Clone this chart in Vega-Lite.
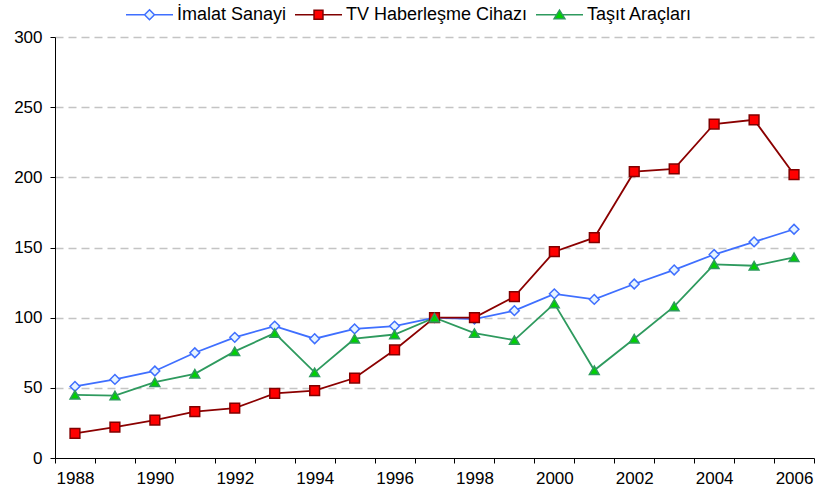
{
  "$schema": "https://vega.github.io/schema/vega-lite/v6.json",
  "width": 759,
  "height": 421,
  "autosize": {"type": "none"},
  "padding": {"left": 55, "top": 37, "right": 4, "bottom": 44},
  "background": "white",
  "config": {"view": {"stroke": null}, "font": "Liberation Sans"},
  "data": {"values": [
    {"year": 1988, "series": "İmalat Sanayi", "value": 51},
    {"year": 1989, "series": "İmalat Sanayi", "value": 56},
    {"year": 1990, "series": "İmalat Sanayi", "value": 62},
    {"year": 1991, "series": "İmalat Sanayi", "value": 75},
    {"year": 1992, "series": "İmalat Sanayi", "value": 86},
    {"year": 1993, "series": "İmalat Sanayi", "value": 94},
    {"year": 1994, "series": "İmalat Sanayi", "value": 85},
    {"year": 1995, "series": "İmalat Sanayi", "value": 92},
    {"year": 1996, "series": "İmalat Sanayi", "value": 94},
    {"year": 1997, "series": "İmalat Sanayi", "value": 100},
    {"year": 1998, "series": "İmalat Sanayi", "value": 99},
    {"year": 1999, "series": "İmalat Sanayi", "value": 105},
    {"year": 2000, "series": "İmalat Sanayi", "value": 117},
    {"year": 2001, "series": "İmalat Sanayi", "value": 113},
    {"year": 2002, "series": "İmalat Sanayi", "value": 124},
    {"year": 2003, "series": "İmalat Sanayi", "value": 134},
    {"year": 2004, "series": "İmalat Sanayi", "value": 145},
    {"year": 2005, "series": "İmalat Sanayi", "value": 154},
    {"year": 2006, "series": "İmalat Sanayi", "value": 163},
    {"year": 1988, "series": "TV Haberleşme Cihazı", "value": 17.5},
    {"year": 1989, "series": "TV Haberleşme Cihazı", "value": 22},
    {"year": 1990, "series": "TV Haberleşme Cihazı", "value": 27},
    {"year": 1991, "series": "TV Haberleşme Cihazı", "value": 33},
    {"year": 1992, "series": "TV Haberleşme Cihazı", "value": 35.5},
    {"year": 1993, "series": "TV Haberleşme Cihazı", "value": 46},
    {"year": 1994, "series": "TV Haberleşme Cihazı", "value": 48},
    {"year": 1995, "series": "TV Haberleşme Cihazı", "value": 57},
    {"year": 1996, "series": "TV Haberleşme Cihazı", "value": 77},
    {"year": 1997, "series": "TV Haberleşme Cihazı", "value": 100},
    {"year": 1998, "series": "TV Haberleşme Cihazı", "value": 100},
    {"year": 1999, "series": "TV Haberleşme Cihazı", "value": 115},
    {"year": 2000, "series": "TV Haberleşme Cihazı", "value": 147},
    {"year": 2001, "series": "TV Haberleşme Cihazı", "value": 157},
    {"year": 2002, "series": "TV Haberleşme Cihazı", "value": 204},
    {"year": 2003, "series": "TV Haberleşme Cihazı", "value": 206},
    {"year": 2004, "series": "TV Haberleşme Cihazı", "value": 238},
    {"year": 2005, "series": "TV Haberleşme Cihazı", "value": 241},
    {"year": 2006, "series": "TV Haberleşme Cihazı", "value": 202},
    {"year": 1988, "series": "Taşıt Araçları", "value": 45},
    {"year": 1989, "series": "Taşıt Araçları", "value": 44.5},
    {"year": 1990, "series": "Taşıt Araçları", "value": 54},
    {"year": 1991, "series": "Taşıt Araçları", "value": 60},
    {"year": 1992, "series": "Taşıt Araçları", "value": 76},
    {"year": 1993, "series": "Taşıt Araçları", "value": 89},
    {"year": 1994, "series": "Taşıt Araçları", "value": 61},
    {"year": 1995, "series": "Taşıt Araçları", "value": 85},
    {"year": 1996, "series": "Taşıt Araçları", "value": 88},
    {"year": 1997, "series": "Taşıt Araçları", "value": 100},
    {"year": 1998, "series": "Taşıt Araçları", "value": 89},
    {"year": 1999, "series": "Taşıt Araçları", "value": 84},
    {"year": 2000, "series": "Taşıt Araçları", "value": 110},
    {"year": 2001, "series": "Taşıt Araçları", "value": 62.5},
    {"year": 2002, "series": "Taşıt Araçları", "value": 85},
    {"year": 2003, "series": "Taşıt Araçları", "value": 108},
    {"year": 2004, "series": "Taşıt Araçları", "value": 138},
    {"year": 2005, "series": "Taşıt Araçları", "value": 137},
    {"year": 2006, "series": "Taşıt Araçları", "value": 143}
  ]},
  "encoding": {
    "x": {
      "field": "year", "type": "quantitative",
      "scale": {"domain": [1987.5, 2006.5], "nice": false, "zero": false},
      "axis": {
        "title": null,
        "values": [1987.5, 1988.5, 1989.5, 1990.5, 1991.5, 1992.5, 1993.5, 1994.5, 1995.5, 1996.5, 1997.5, 1998.5, 1999.5, 2000.5, 2001.5, 2002.5, 2003.5, 2004.5, 2005.5, 2006.5],
        "labelExpr": "(datum.value + 0.5) % 2 == 0 ? format(datum.value + 0.5, 'd') : ''",
        "labelOffset": 20,
        "labelOverlap": false,
        "labelFlush": false,
        "labelBound": false,
        "grid": false,
        "domainColor": "black",
        "tickColor": "black",
        "tickSize": 5,
        "labelFontSize": 17,
        "labelColor": "black",
        "labelPadding": 7
      }
    },
    "y": {
      "field": "value", "type": "quantitative",
      "scale": {"domain": [0, 300], "nice": false},
      "axis": {
        "title": null,
        "values": [0, 50, 100, 150, 200, 250, 300],
        "grid": true,
        "gridDash": [8, 5],
        "gridColor": "#c4c4c4",
        "gridWidth": 1.3,
        "gridOpacity": {"condition": {"test": "datum.value === 0", "value": 0}, "value": 1},
        "domainColor": "black",
        "tickColor": "black",
        "tickSize": 5,
        "labelPadding": 8,
        "labelFontSize": 17,
        "labelColor": "black"
      }
    }
  },
  "layer": [
    {
      "mark": {"type": "line", "strokeWidth": 1.8},
      "encoding": {
        "color": {
          "field": "series", "type": "nominal",
          "scale": {"domain": ["İmalat Sanayi", "TV Haberleşme Cihazı", "Taşıt Araçları"], "range": ["#3f6fff", "#8b0000", "#2e9a5e"]},
          "legend": null
        }
      }
    },
    {
      "mark": {"type": "point", "filled": true, "size": 95, "strokeWidth": 1.5, "opacity": 1},
      "encoding": {
        "shape": {
          "field": "series", "type": "nominal",
          "scale": {"domain": ["İmalat Sanayi", "TV Haberleşme Cihazı", "Taşıt Araçları"], "range": ["diamond", "square", "triangle-up"]},
          "legend": null
        },
        "fill": {
          "field": "series", "type": "nominal",
          "scale": {"domain": ["İmalat Sanayi", "TV Haberleşme Cihazı", "Taşıt Araçları"], "range": ["#e6f4ff", "#ff0000", "#00d200"]},
          "legend": null
        },
        "stroke": {
          "field": "series", "type": "nominal",
          "scale": {"domain": ["İmalat Sanayi", "TV Haberleşme Cihazı", "Taşıt Araçları"], "range": ["#3f6fff", "#800000", "#2e9a5e"]},
          "legend": null
        }
      }
    },
    {
      "mark": {"type": "point", "filled": true, "opacity": 0, "strokeWidth": 1.5},
      "encoding": {
        "shape": {
          "field": "series", "type": "nominal",
          "scale": {"domain": ["İmalat Sanayi", "TV Haberleşme Cihazı", "Taşıt Araçları"], "range": [
            "M-1,0H-0.21M0.21,0H1M0,-0.21L0.21,0L0,0.21L-0.21,0Z",
            "M-1,0H-0.19M0.19,0H1M-0.19,-0.19H0.19V0.19H-0.19Z",
            "M-1,0H-0.13M0.13,0H1M0,-0.2L0.23,0.17H-0.23Z"
          ]},
          "legend": {"title": null, "orient": "none", "legendX": 70, "legendY": -47, "direction": "horizontal", "symbolSize": 2209, "symbolStrokeWidth": 1.5, "symbolOpacity": 1, "labelFontSize": 18, "labelColor": "black", "labelOffset": 3, "labelLimit": 0, "columnPadding": 5, "padding": 0}
        },
        "fill": {
          "field": "series", "type": "nominal",
          "scale": {"domain": ["İmalat Sanayi", "TV Haberleşme Cihazı", "Taşıt Araçları"], "range": ["#e6f4ff", "#ff0000", "#00d200"]},
          "legend": {"title": null, "orient": "none", "legendX": 70, "legendY": -47, "direction": "horizontal", "symbolSize": 2209, "symbolStrokeWidth": 1.5, "symbolOpacity": 1, "labelFontSize": 18, "labelColor": "black", "labelOffset": 3, "labelLimit": 0, "columnPadding": 5, "padding": 0}
        },
        "stroke": {
          "field": "series", "type": "nominal",
          "scale": {"domain": ["İmalat Sanayi", "TV Haberleşme Cihazı", "Taşıt Araçları"], "range": ["#3f6fff", "#800000", "#2e9a5e"]},
          "legend": {"title": null, "orient": "none", "legendX": 70, "legendY": -47, "direction": "horizontal", "symbolSize": 2209, "symbolStrokeWidth": 1.5, "symbolOpacity": 1, "labelFontSize": 18, "labelColor": "black", "labelOffset": 3, "labelLimit": 0, "columnPadding": 5, "padding": 0}
        }
      }
    }
  ],
  "resolve": {"scale": {"shape": "independent", "fill": "independent", "stroke": "independent"}}
}
